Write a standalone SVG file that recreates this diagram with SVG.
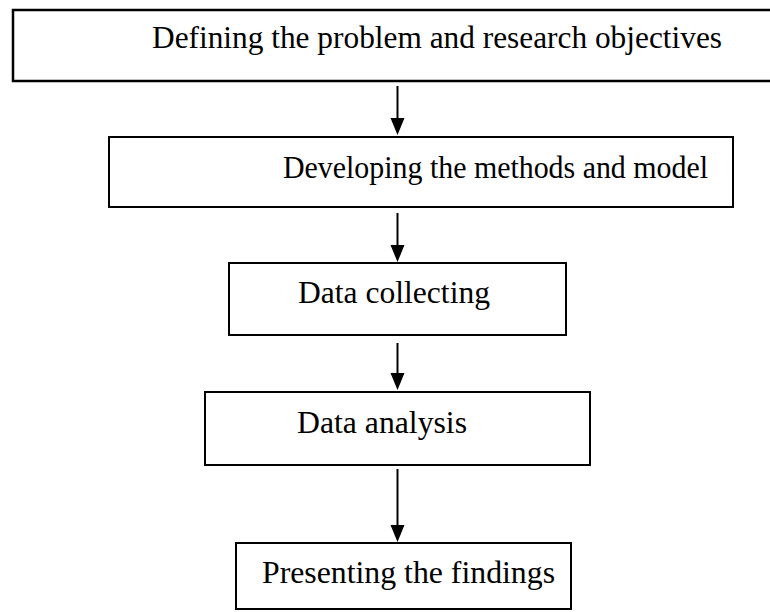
<svg xmlns="http://www.w3.org/2000/svg" width="770" height="612" viewBox="0 0 770 612">
<style>
.box{fill:#fff;stroke:#000;stroke-width:2}
.lbl{font-family:"Liberation Serif","Times New Roman",serif;font-size:31.5px;fill:#000}
.conn{stroke:#000;stroke-width:2;fill:none}
.head{fill:#000}
</style>
<rect width="770" height="612" fill="#fff"/>
<g id="n1"><rect class="box" x="13" y="10" width="765" height="71" style="stroke-width:2.5"/><text class="lbl" x="152" y="48" textLength="570" lengthAdjust="spacingAndGlyphs">Defining the problem and research objectives</text></g>
<g id="n2"><rect class="box" x="109" y="137" width="624" height="70"/><text class="lbl" x="283" y="178" textLength="425" lengthAdjust="spacingAndGlyphs">Developing the methods and model</text></g>
<g id="n3"><rect class="box" x="229" y="263" width="337" height="72"/><text class="lbl" x="298" y="303" textLength="192" lengthAdjust="spacingAndGlyphs">Data collecting</text></g>
<g id="n4"><rect class="box" x="205" y="392" width="385" height="73"/><text class="lbl" x="297" y="433" textLength="170" lengthAdjust="spacingAndGlyphs">Data analysis</text></g>
<g id="n5"><rect class="box" x="236" y="543" width="335" height="66"/><text class="lbl" x="262" y="583" textLength="293" lengthAdjust="spacingAndGlyphs">Presenting the findings</text></g>
<g id="connectors">
<line class="conn" x1="397.5" y1="86" x2="397.5" y2="120"/><polygon class="head" points="390.5,118 404.5,118 397.5,135"/>
<line class="conn" x1="397.5" y1="213" x2="397.5" y2="246"/><polygon class="head" points="390.5,245 404.5,245 397.5,262"/>
<line class="conn" x1="397.5" y1="343" x2="397.5" y2="375"/><polygon class="head" points="390.5,373 404.5,373 397.5,390"/>
<line class="conn" x1="397.5" y1="469" x2="397.5" y2="527"/><polygon class="head" points="390.5,525 404.5,525 397.5,542"/>
</g>
</svg>
